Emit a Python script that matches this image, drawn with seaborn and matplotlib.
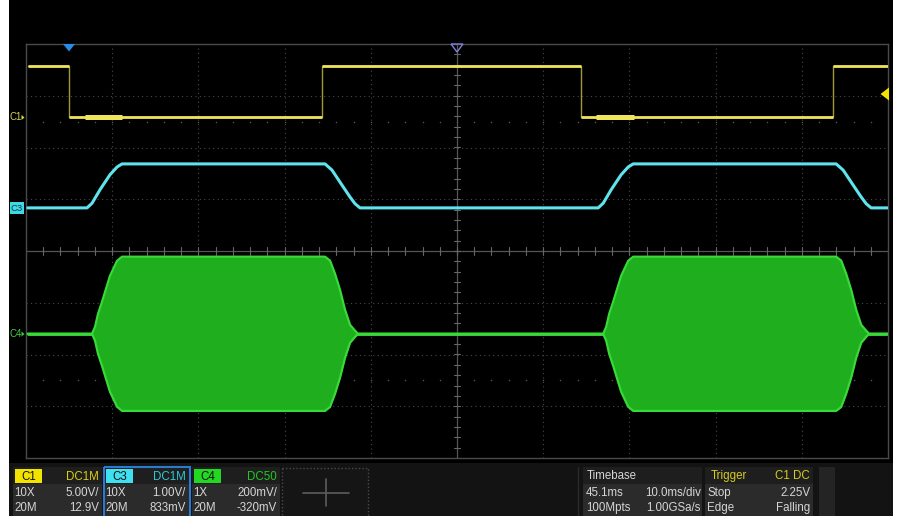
import numpy as np
import pandas as pd
import matplotlib
matplotlib.use("Agg")
import matplotlib.pyplot as plt
from matplotlib.patches import Rectangle, Polygon
import seaborn as sns

sns.set_theme(style="dark")
plt.rcParams['font.family'] = ['Liberation Sans', 'DejaVu Sans']

# ---------------- data (read from screen) ----------------
# time axis: 10 ms/div, centred on 0 ms
c1_t_ms = [-49.8, -45.0, -45.0, -15.7, -15.7, 14.4, 14.4, 43.6, 43.6, 50.0]
c1_v = [5, 5, 0, 0, 5, 5, 0, 0, 5, 5]
c1_noise_t = [(-43.2, -38.9), (16.1, 20.5)]
c1_scale, c1_offset = 5.0, 12.9          # V/div, V

c3_t_ms = [-49.8, -42.92, -42.34, -41.42, -40.26, -39.44, -38.86,
           -15.31, -14.50, -13.34, -12.41, -11.83, -11.25,
           16.38, 16.96, 17.88, 19.04, 19.86, 20.44,
           43.99, 44.80, 45.96, 46.89, 47.47, 48.05, 50.0]
c3_v = [0, 0, 0.09, 0.35, 0.64, 0.79, 0.85,
        0.85, 0.73, 0.44, 0.21, 0.08, 0,
        0, 0.09, 0.35, 0.64, 0.79, 0.85,
        0.85, 0.73, 0.44, 0.21, 0.08, 0, 0]
c3_scale, c3_offset = 1.0, 0.833

c4_t_ms = [-49.8, -42.34, -41.99, -41.65, -41.18, -40.26, -39.44, -38.86,
           -15.31, -14.73, -14.15, -13.57, -12.99, -12.41, -11.83, -11.48,
           16.96, 17.31, 17.65, 18.12, 19.04, 19.86, 20.44,
           43.99, 44.57, 45.15, 45.73, 46.31, 46.89, 47.47, 47.82, 50.0]
c4_amp_mV = [0, 0, 27, 77, 124, 224, 282, 298,
             298, 283, 232, 170, 93, 35, 12, 0,
             0, 27, 77, 124, 224, 282, 298,
             298, 283, 232, 170, 93, 35, 12, 0, 0]
c4_scale, c4_offset = 200.0, -320.0      # mV/div, mV

ms_per_div = 10.0

# ---------------- figure ----------------
W, H = 900, 516
fig = plt.figure(figsize=(W / 100, H / 100), dpi=100, facecolor='white')

bg = fig.add_axes([0, 0, 1, 1], zorder=0)
bg.set_xlim(0, W); bg.set_ylim(H, 0); bg.axis('off')
bg.add_patch(Rectangle((9, 0), 884, H, color='black', lw=0))
bg.add_patch(Rectangle((9, 463), 884, H - 463, color='#131313', lw=0))

# main graticule axes
x0, x1, y0, y1 = 26, 888, 44, 458
ax = fig.add_axes([x0 / W, (H - y1) / H, (x1 - x0) / W, (y1 - y0) / H], zorder=1)
ax.set_facecolor('none')
ax.set_xlim(-5, 5); ax.set_ylim(-4, 4)
ax.set_xticks([]); ax.set_yticks([])
ax.grid(False)
for s in ax.spines.values():
    s.set_color('#4a4a4a'); s.set_linewidth(1.0); s.set_visible(True)

for k in range(-4, 5):
    if k != 0:
        ax.axvline(k, color='#484848', lw=0.8, ls=(0, (1, 3)), zorder=1)
for k in range(-3, 4):
    if k != 0:
        ax.axhline(k, color='#484848', lw=0.8, ls=(0, (1, 3)), zorder=1)
ax.axvline(0, color='#555555', lw=0.9, zorder=1)
ax.axhline(0, color='#555555', lw=0.9, zorder=1)
minor_x = np.arange(-5, 5.01, 0.2)
minor_y = np.arange(-4, 4.01, 0.2)
for mx in minor_x:
    ax.plot([mx, mx], [-0.07, 0.07], color='#666666', lw=0.8, zorder=1)
for my in minor_y:
    ax.plot([-0.04, 0.04], [my, my], color='#666666', lw=0.8, zorder=1)
for ry in (2.5, -2.5):
    ax.scatter(minor_x[1:-1], np.full(len(minor_x) - 2, ry), s=1.2, color='#555555', zorder=1, lw=0)

# ---- C4 burst ----
c4_x = np.array(c4_t_ms) / ms_per_div
c4_mid = c4_offset / c4_scale
c4_up = c4_mid + np.array(c4_amp_mV) / c4_scale
c4_lo = c4_mid - np.array(c4_amp_mV) / c4_scale
sns.lineplot(x=[-4.98, 5.0], y=[c4_mid, c4_mid], ax=ax, color='#40e040', lw=2.0, zorder=2)
ax.fill_between(c4_x, c4_lo, c4_up, color='#1eae1e', lw=0, zorder=3)
ax.plot(c4_x, c4_up, color='#38da38', lw=1.6, zorder=4)
ax.plot(c4_x, c4_lo, color='#38da38', lw=1.6, zorder=4)

# ---- C3 ----
df3 = pd.DataFrame({'x': np.array(c3_t_ms) / ms_per_div,
                    'y': np.array(c3_v) / c3_scale + c3_offset / c3_scale})
sns.lineplot(data=df3, x='x', y='y', sort=False, estimator=None, ax=ax,
             color='#5fe3ec', lw=2.2, zorder=5)

# ---- C1 ----
c1x = np.array(c1_t_ms) / ms_per_div
c1y = (np.array(c1_v) + c1_offset) / c1_scale
sns.lineplot(x=c1x, y=c1y, sort=False, estimator=None, ax=ax, color='#a09a30', lw=1.0, zorder=5)
for i in range(0, len(c1x) - 1):
    if c1_v[i] == c1_v[i + 1]:
        ax.plot(c1x[i:i + 2], c1y[i:i + 2], color='#efe45a', lw=2.0, zorder=6,
                solid_capstyle='butt')
for a, b in c1_noise_t:
    yy = c1_offset / c1_scale
    ax.plot([a / ms_per_div, b / ms_per_div], [yy, yy], color='#efe45a', lw=3.6,
            zorder=6, solid_capstyle='butt')

# ---------------- foreground overlay ----------------
fg = fig.add_axes([0, 0, 1, 1], zorder=2)
fg.set_facecolor('none'); fg.set_xlim(0, W); fg.set_ylim(H, 0); fg.axis('off')

fg.add_patch(Polygon([(63, 44), (75, 44), (69, 51.5)], closed=True, color='#2a8ae8', lw=0))
fg.add_patch(Polygon([(451, 44), (463, 44), (457, 52)], closed=True, fc='none', ec='#7f7fd8', lw=1.0))
fg.add_patch(Polygon([(889, 87.5), (889, 100.5), (880.5, 94)], closed=True, color='#f2e400', lw=0))

# channel markers
fg.text(10, 117.5, 'C1', color='#d8d050', fontsize=7, va='center', ha='left')
fg.add_patch(Polygon([(21.5, 115), (21.5, 120), (24.5, 117.5)], closed=True, color='#d8d050', lw=0))
fg.add_patch(Rectangle((10, 202), 14, 12, color='#3fd8e4', lw=0))
fg.text(17, 208.3, 'C3', color='#0e3c44', fontsize=6.8, va='center', ha='center')
fg.text(10, 334, 'C4', color='#3ad03a', fontsize=7, va='center', ha='left')
fg.add_patch(Polygon([(21.5, 331.5), (21.5, 336.5), (24.5, 334)], closed=True, color='#3ad03a', lw=0))

# ---------------- bottom status bar ----------------
fs = 8.3
txt = '#d6d6d6'
def panel(xl, xr, head_bg='#1e1e1e', body_bg='#2b2b2b'):
    fg.add_patch(Rectangle((xl, 467), xr - xl, 17, color=head_bg, lw=0))
    fg.add_patch(Rectangle((xl, 484), xr - xl, H - 484, color=body_bg, lw=0))

channels = [
    # xl, xr, label, label_bg, coupling, coupling_col, probe, vdiv, bw, offset
    (13, 102, 'C1', '#f2e400', 'DC1M', '#dccf10', '10X', '5.00V/', '20M', '12.9V'),
    (104, 189, 'C3', '#3fe0f0', 'DC1M', '#30c8d8', '10X', '1.00V/', '20M', '833mV'),
    (192, 280, 'C4', '#22d822', 'DC50', '#22c822', '1X', '200mV/', '20M', '-320mV'),
]
for xl, xr, lab, lbg, cp, cpc, pr, vd, bw, off in channels:
    panel(xl, xr)
    fg.add_patch(Rectangle((xl + 2, 469), 27, 14, color=lbg, lw=0))
    fg.text(xl + 15.5, 476.5, lab, color='#111111', fontsize=fs, ha='center', va='center')
    fg.text(xr - 3, 476.5, cp, color=cpc, fontsize=fs, ha='right', va='center')
    fg.text(xl + 1.5, 493, pr, color=txt, fontsize=fs, ha='left', va='center')
    fg.text(xr - 3, 493, vd, color=txt, fontsize=fs, ha='right', va='center')
    fg.text(xl + 1.5, 508, bw, color=txt, fontsize=fs, ha='left', va='center')
    fg.text(xr - 3, 508, off, color=txt, fontsize=fs, ha='right', va='center')
fg.add_patch(Rectangle((103.5, 467), 86, 52, fc='none', ec='#2a7bd0', lw=1.5))

# empty slot with cross
fg.add_patch(Rectangle((282, 468), 86, 52, fc='#151515', ec='#4a4a4a', lw=1.0, ls=(0, (1, 1.5))))
fg.plot([303, 349], [493, 493], color='#5c5c5c', lw=1.2)
fg.plot([326, 326], [479, 506], color='#5c5c5c', lw=1.2)
fg.plot([578, 578], [467, H], color='#2a2a2a', lw=1.0)

# timebase
panel(583, 702)
fg.text(587, 476, 'Timebase', color=txt, fontsize=fs, ha='left', va='center')
fg.text(586, 493, '45.1ms', color=txt, fontsize=fs, ha='left', va='center')
fg.text(701, 493, '10.0ms/div', color=txt, fontsize=fs, ha='right', va='center')
fg.text(586, 508, '100Mpts', color=txt, fontsize=fs, ha='left', va='center')
fg.text(701, 508, '1.00GSa/s', color=txt, fontsize=fs, ha='right', va='center')

# trigger
panel(705, 813)
fg.text(711, 476, 'Trigger', color='#d8cc20', fontsize=fs, ha='left', va='center')
fg.text(810, 476, 'C1 DC', color='#d8cc20', fontsize=fs, ha='right', va='center')
fg.text(707, 493, 'Stop', color=txt, fontsize=fs, ha='left', va='center')
fg.text(810, 493, '2.25V', color=txt, fontsize=fs, ha='right', va='center')
fg.text(707, 508, 'Edge', color=txt, fontsize=fs, ha='left', va='center')
fg.text(810, 508, 'Falling', color=txt, fontsize=fs, ha='right', va='center')
fg.add_patch(Rectangle((819, 467), 16, H - 467, color='#242424', lw=0))

fig.savefig('out.png', dpi=100, facecolor='white')
